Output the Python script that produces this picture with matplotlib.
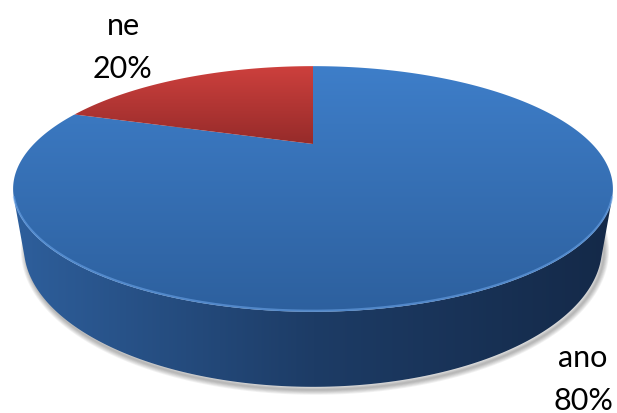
import numpy as np
import matplotlib
matplotlib.use("Agg")
import matplotlib.pyplot as plt
from matplotlib.patches import Polygon
from matplotlib.colors import LinearSegmentedColormap

# podíly odpovědí
labels = ["ano", "ne"]
values = [80, 20]

# barvy horní plochy (světlá nahoře, tmavší dole) a boku
top_colors = [("#3e7ec9", "#2d609e"), ("#cd403d", "#962b2a")]
side_colors = [("#2e5f9c", "#1d3c66", "#142948"), ("#9c2b2a", "#6e1e1d", "#4a1413")]

# umístění popisků (pixely)
label_pos = [(583, 367), (123, 35)]

W, H = 617, 414
CX, CY = 313, 145
F = 705.0
D = 2.526
ELEV = np.radians(22.4)
THICK = 0.215


def project(u, v, z):
    c, s = np.cos(ELEV), np.sin(ELEV)
    w = D + v * c - z * s
    up = v * s + z * c
    return CX + F * u / w, CY - F * up / w


def gradient_fill(ax, pts, colors, horizontal=False):
    poly = Polygon(pts, closed=True, fc="none", ec="none")
    ax.add_patch(poly)
    x0, y0 = pts.min(axis=0)
    x1, y1 = pts.max(axis=0)
    cmap = LinearSegmentedColormap.from_list("g", colors)
    g = np.linspace(0, 1, 256)
    img = g[None, :] if horizontal else g[:, None]
    im = ax.imshow(img, cmap=cmap, extent=[x0, x1, y1, y0], origin="upper",
                   aspect="auto", interpolation="bilinear", zorder=poly.get_zorder())
    im.set_clip_path(poly)
    return im


fig = plt.figure(figsize=(W / 100, H / 100), dpi=100)
ax = fig.add_axes([0, 0, 1, 1])
ax.axis("off")

total = float(sum(values))
c_, s_ = np.cos(ELEV), np.sin(ELEV)
phi_vis = np.degrees(np.arcsin(1.0 / (D * c_)))
vis_lo, vis_hi = 180 + phi_vis, 360 - phi_vis

# stín pod koláčem
t = np.linspace(0, 2 * np.pi, 400)
bx, by = project(np.cos(t), np.sin(t), -THICK)
shadow = np.column_stack([bx + 2, by + 3])
for k in range(6, 0, -1):
    ax.add_patch(Polygon(shadow, closed=True, fc="none", ec="#000000",
                         lw=k * 1.2, alpha=0.05, joinstyle="round"))

# výseče: začátek na 12 hodinách, po směru hodinových ručiček
start = 90.0
slices = []
for i, val in enumerate(values):
    end = start - 360.0 * val / total
    slices.append((min(start, end), max(start, end), i))
    start = end

# bok koláče (jen viditelná přední část)
for a0, a1, i in slices:
    for shift in (0, 360, -360):
        lo = max(a0 + shift, vis_lo)
        hi = min(a1 + shift, vis_hi)
        if hi <= lo:
            continue
        ph = np.radians(np.linspace(lo, hi, 200))
        tx, ty = project(np.cos(ph), np.sin(ph), 0.0)
        bx2, by2 = project(np.cos(ph), np.sin(ph), -THICK)
        pts = np.column_stack([np.r_[tx, bx2[::-1]], np.r_[ty, by2[::-1]]])
        gradient_fill(ax, pts, side_colors[i], horizontal=True)

# horní plochy výsečí
for a0, a1, i in slices:
    ph = np.radians(np.linspace(a0, a1, 300))
    ux, uy = project(np.cos(ph), np.sin(ph), 0.0)
    pts = np.column_stack([np.r_[CX, ux], np.r_[CY, uy]])
    gradient_fill(ax, pts, top_colors[i])

# světlá hrana na předním okraji
ph = np.radians(np.linspace(vis_lo, vis_hi, 300))
ex, ey = project(np.cos(ph), np.sin(ph), 0.0)
ax.plot(ex, ey - 1, color="#6fa8ec", lw=1.6, alpha=0.55, solid_capstyle="round")

# popisky
for (lx, ly), name, val in zip(label_pos, labels, values):
    pct = f"{val / total * 100:.0f}%"
    ax.text(lx, ly, name, ha="center", va="baseline", fontsize=22,
            family="Lato", color="#000000")
    ax.text(lx, ly + 43, pct, ha="center", va="baseline", fontsize=22,
            family="Lato", color="#000000")

ax.set_xlim(0, W)
ax.set_ylim(H, 0)
fig.savefig("out.png", dpi=100)
